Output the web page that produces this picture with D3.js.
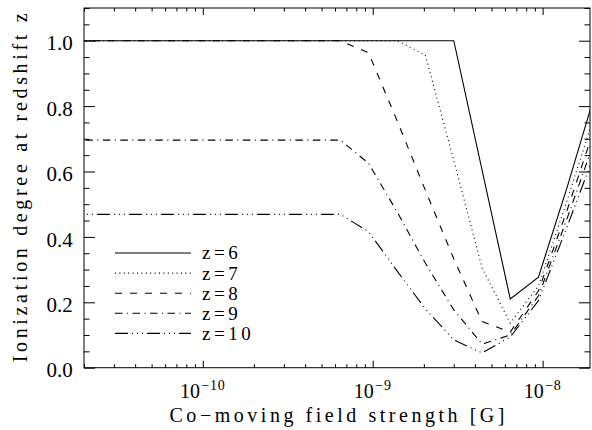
<!DOCTYPE html>
<html><head><meta charset="utf-8">
<script src="https://cdn.jsdelivr.net/npm/d3@7"></script>
<style>
body{margin:0;background:#fff}
svg{display:block}
svg text{font-family:"Liberation Serif","DejaVu Serif",serif !important;fill:#000}
</style>
</head><body>
<svg id="chart" width="592" height="430"></svg>
<script>
// ---- data ----
const fieldStrength = [1e-11, 6.45e-10, 9.45e-10, 1.39e-9, 2.04e-9, 3.0e-9, 4.4e-9, 6.45e-9, 9.45e-9, 1.39e-8, 2.04e-8];
const ionZ6  = [1.0,   1.0,   1.0,   1.0,   1.0,   1.0,   null,  0.21,  0.277, 0.55,  0.84];
const ionZ7  = [1.0,   1.0,   1.0,   1.0,   0.956, 0.634, 0.305, 0.136, 0.25,  0.51,  0.78];
const ionZ8  = [1.0,   1.0,   0.963, 0.756, 0.543, 0.333, 0.141, 0.109, 0.235, 0.48,  0.74];
const ionZ9  = [0.696, 0.696, 0.625, 0.477, 0.32,  0.177, 0.072, 0.10,  0.22,  0.455, 0.70];
const ionZ10 = [0.469, 0.469, 0.416, 0.296, 0.18,  0.085, 0.045, 0.094, 0.205, 0.43,  0.66];
const seriesLabels = ["z=6", "z=7", "z=8", "z=9", "z=10"];
const xMajorTicks = [1e-10, 1e-9, 1e-8];
const xMajorExponents = ["\u221210", "\u22129", "\u22128"];
const yMajorTicks = [0.0, 0.2, 0.4, 0.6, 0.8, 1.0];
const yTickLabels = ["0.0", "0.2", "0.4", "0.6", "0.8", "1.0"];
const xTitle = "Co\u2212moving field strength [G]";
const yTitle = "Ionization degree at redshift z";

// ---- layout ----
const L = 84, R = 590, T = 8, B = 367.7;
const FONT = "Liberation Serif";
const dashes = [null, "1,3.4", "7,8", "7.5,4.5,1,4.5", "13,4,1,4,1,4,1,4"];

const svg = d3.select("#chart");
const x = d3.scaleLog().domain([2e-11, 1.9e-8]).range([L, R]);
const y = d3.scaleLinear().domain([0, 1.1]).range([B, T]);

// minor ticks
const xMinor = [];
for (let e = -11; e <= -8; e++) for (let m = 2; m <= 9; m++) {
  const v = m * Math.pow(10, e);
  if (v >= 2e-11 && v <= 1.9e-8) xMinor.push(v);
}
const yMinor = d3.range(0, 1.1001, 0.05).filter(v => Math.abs(v*5 - Math.round(v*5)) > 1e-6);

function styleAxis(g){
  g.attr("font-family", FONT);
  g.select(".domain").remove();
  g.selectAll(".tick line").attr("stroke", "#000").attr("stroke-width", 1);
}
// bottom
svg.append("g").attr("transform", `translate(0,${B})`)
  .call(d3.axisBottom(x).tickValues(xMinor).tickSize(-3.5).tickFormat("")).call(styleAxis);
svg.append("g").attr("transform", `translate(0,${B})`)
  .call(d3.axisBottom(x).tickValues(xMajorTicks).tickSize(-7).tickFormat("")).call(styleAxis);
// top
svg.append("g").attr("transform", `translate(0,${T})`)
  .call(d3.axisTop(x).tickValues(xMinor).tickSize(-3.5).tickFormat("")).call(styleAxis);
svg.append("g").attr("transform", `translate(0,${T})`)
  .call(d3.axisTop(x).tickValues(xMajorTicks).tickSize(-7).tickFormat("")).call(styleAxis);
// left
svg.append("g").attr("transform", `translate(${L},0)`)
  .call(d3.axisLeft(y).tickValues(yMinor).tickSize(-5.5).tickFormat("")).call(styleAxis);
const gyl = svg.append("g").attr("transform", `translate(${L},0)`)
  .call(d3.axisLeft(y).tickValues(yMajorTicks).tickSize(-11).tickPadding(11.3)
    .tickFormat((d,i) => yTickLabels[i])).call(styleAxis);
gyl.attr("font-size", 21);
gyl.selectAll(".tick text").attr("dy", "0.44em").attr("fill", "#000");
// right
svg.append("g").attr("transform", `translate(${R},0)`)
  .call(d3.axisRight(y).tickValues(yMinor).tickSize(-5.5).tickFormat("")).call(styleAxis);
svg.append("g").attr("transform", `translate(${R},0)`)
  .call(d3.axisRight(y).tickValues(yMajorTicks).tickSize(-11).tickFormat("")).call(styleAxis);

// frame
svg.append("rect").attr("x", L).attr("y", T).attr("width", R - L).attr("height", B - T)
  .attr("fill", "none").attr("stroke", "#000").attr("stroke-width", 1);

// x tick labels: base "10" and separate exponent text, centred together on the tick
xMajorTicks.forEach((v, i) => {
  const base = svg.append("text").attr("y", 398).attr("font-size", 20).attr("font-family", FONT).text("10");
  const sup = svg.append("text").attr("y", 389.5).attr("font-size", 14).attr("font-family", FONT)
    .attr("letter-spacing", 0.8).text(xMajorExponents[i]);
  const wb = base.node().getComputedTextLength();
  const ws = sup.node().getComputedTextLength();
  const gap = 1.5;
  const start = x(v) - (wb + gap + ws) / 2;
  base.attr("x", start);
  sup.attr("x", start + wb + gap);
});

// titles
svg.append("text").attr("x", (L + R) / 2).attr("y", 421.5).attr("text-anchor", "middle")
  .attr("font-size", 20).attr("font-family", FONT)
  .attr("textLength", 335).attr("lengthAdjust", "spacing").text(xTitle);
svg.append("text").attr("transform", `translate(27,${(T + B) / 2}) rotate(-90)`)
  .attr("text-anchor", "middle").attr("font-size", 20).attr("font-family", FONT)
  .attr("textLength", 349).attr("lengthAdjust", "spacing").text(yTitle);

// data lines
svg.append("clipPath").attr("id", "clip").append("rect")
  .attr("x", L).attr("y", T).attr("width", R - L).attr("height", B - T);
const allSeries = [ionZ6, ionZ7, ionZ8, ionZ9, ionZ10];
const line = d3.line().x(d => x(d[0])).y(d => y(d[1]));
allSeries.forEach((vals, i) => {
  const pts = fieldStrength.map((b, j) => [b, vals[j]]).filter(p => p[1] !== null);
  svg.append("path").datum(pts).attr("clip-path", "url(#clip)")
    .attr("d", line).attr("fill", "none").attr("stroke", "#000").attr("stroke-width", 1.1)
    .attr("stroke-dasharray", dashes[i]);
});

// legend
seriesLabels.forEach((lab, i) => {
  const ly = 253 + i * 20.1;
  svg.append("line").attr("x1", 115).attr("x2", 191).attr("y1", ly).attr("y2", ly)
    .attr("stroke", "#000").attr("stroke-width", 1.1).attr("stroke-dasharray", dashes[i]);
  svg.append("text").attr("x", 202).attr("y", ly + 6.4).attr("font-size", 19).attr("font-family", FONT)
    .attr("letter-spacing", 3.5).text(lab);
});
</script>
</body></html>
